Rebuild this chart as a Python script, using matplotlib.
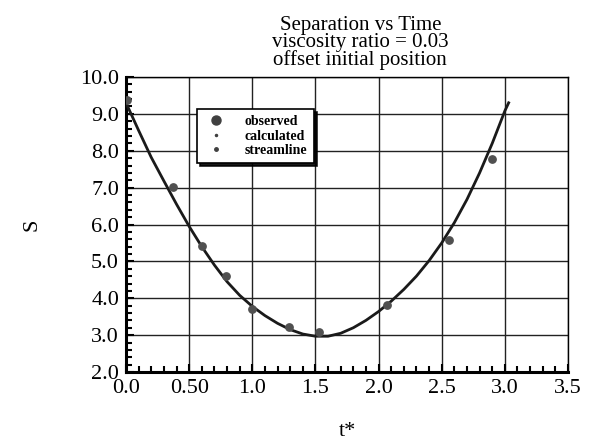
import matplotlib
matplotlib.use("Agg")
import matplotlib.pyplot as plt
from matplotlib.ticker import MultipleLocator, FixedLocator, FixedFormatter
from matplotlib.lines import Line2D

# observed separation points
obs_t = [0.01, 0.37, 0.60, 0.79, 1.00, 1.29, 1.53, 2.07, 2.56, 2.90]
obs_s = [9.37, 7.01, 5.43, 4.59, 3.72, 3.22, 3.08, 3.81, 5.57, 7.77]

# calculated curve
calc_t = [0.0, 0.1, 0.2, 0.3, 0.4, 0.5, 0.6, 0.7, 0.8, 0.9, 1.0, 1.1, 1.2, 1.3,
          1.4, 1.5, 1.6, 1.7, 1.8, 1.9, 2.0, 2.1, 2.2, 2.3, 2.4, 2.5, 2.6, 2.7,
          2.8, 2.9, 3.0, 3.03]
calc_s = [9.30, 8.55, 7.82, 7.18, 6.55, 5.95, 5.40, 4.90, 4.45, 4.08, 3.78, 3.53,
          3.32, 3.15, 3.03, 2.97, 2.97, 3.05, 3.20, 3.40, 3.64, 3.92, 4.24, 4.60,
          5.02, 5.50, 6.05, 6.68, 7.40, 8.20, 9.08, 9.30]

xticks = [0.0, 0.5, 1.0, 1.5, 2.0, 2.5, 3.0, 3.5]
xlabels = ["0.0", "0.50", "1.0", "1.5", "2.0", "2.5", "3.0", "3.5"]
yticks = [2, 3, 4, 5, 6, 7, 8, 9, 10]
ylabels = ["2.0", "3.0", "4.0", "5.0", "6.0", "7.0", "8.0", "9.0", "10.0"]

plt.rcParams['font.family'] = ['Liberation Serif', 'DejaVu Serif']

fig = plt.figure(figsize=(5.91, 4.41), dpi=100)
ax = fig.add_axes([126/591, 1 - 372/441, 442/591, 295/441])

ax.plot(calc_t, calc_s, color='#1a1a1a', lw=2.0, zorder=3)
ax.scatter(obs_t, obs_s, s=28, color='#505050', zorder=4)

ax.set_xlim(0, 3.5)
ax.set_ylim(2, 10)
ax.xaxis.set_major_locator(FixedLocator(xticks))
ax.xaxis.set_major_formatter(FixedFormatter(xlabels))
ax.yaxis.set_major_locator(FixedLocator(yticks))
ax.yaxis.set_major_formatter(FixedFormatter(ylabels))
ax.xaxis.set_minor_locator(MultipleLocator(0.1))
ax.yaxis.set_minor_locator(MultipleLocator(0.2))
ax.tick_params(which='both', direction='in', top=False, right=False,
               labelsize=16, width=1.5)
ax.tick_params(which='major', length=6, pad=5)
ax.tick_params(which='minor', length=4)
ax.grid(True, which='major', color='#222222', lw=1.0)
for side in ['left', 'bottom']:
    ax.spines[side].set_linewidth(2.2)
for side in ['top', 'right']:
    ax.spines[side].set_linewidth(1.0)

ax.set_xlabel("t*", fontsize=16, labelpad=17)
ax.set_ylabel("S", fontsize=16, labelpad=28)
ax.set_title("Separation vs Time\nviscosity ratio = 0.03\noffset initial position",
             fontsize=15, linespacing=0.85, x=0.53, pad=9)

handles = [
    Line2D([], [], ls='none', marker='o', ms=6.5, color='#404040'),
    Line2D([], [], ls='none', marker='o', ms=1.5, color='#404040'),
    Line2D([], [], ls='none', marker='o', ms=2.5, color='#404040'),
]
leg = ax.legend(handles, ["observed", "calculated", "streamline"],
                loc='upper left', bbox_to_anchor=(0.145, 0.915),
                prop={'size': 10, 'weight': 'bold'}, labelspacing=0.1,
                handletextpad=1.2, handlelength=1.8, borderpad=0.45,
                fancybox=False, shadow={'color': 'black', 'alpha': 0.9},
                edgecolor='black', framealpha=1)
leg.get_frame().set_linewidth(1.2)
leg.set_zorder(5)

fig.savefig("out.png", dpi=100)
